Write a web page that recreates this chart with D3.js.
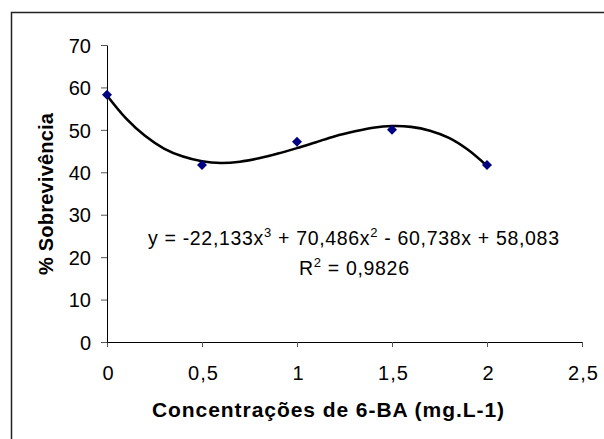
<!DOCTYPE html>
<html><head><meta charset="utf-8">
<script src="https://cdn.jsdelivr.net/npm/d3@7/dist/d3.min.js"></script>
<style>body{margin:0;background:#fff}svg{display:block}text{font-family:"Liberation Sans",Arial,sans-serif;fill:#000}</style>
</head><body>
<script>
// Observed data points
const concentrations = [0, 0.5, 1, 1.5, 2];
const survival = [58.3, 41.7, 47.2, 50.0, 41.7];
// Trendline values
const trendX = [0,0.1,0.2,0.3,0.4,0.5,0.6,0.7,0.8,0.9,1.0,1.1,1.2,1.3,1.4,1.5,1.6,1.7,1.8,1.9,2.0];
const trendY = [58.1,52.7,48.6,45.6,43.7,42.6,42.2,42.5,43.3,44.4,45.7,47.1,48.5,49.6,50.5,50.9,50.7,49.8,48.1,45.3,41.5];
const xTicks = [0,0.5,1,1.5,2,2.5];
const yTicks = [0,10,20,30,40,50,60,70];
const xTitle = "Concentrações de 6-BA (mg.L-1)";
const yTitle = "% Sobrevivência";
const r2Text = "0,9826";

const W=604,H=439;
const svg=d3.select("body").append("svg").attr("width",W).attr("height",H);
svg.append("rect").attr("x",11.5).attr("y",12.5).attr("width",800).attr("height",600)
  .attr("fill","none").attr("stroke","#222").attr("stroke-width",1.5);

const x=d3.scaleLinear().domain([0,2.5]).range([107,582]);
const y=d3.scaleLinear().domain([0,70]).range([342,45]);
const fmt=d=>String(d).replace(".",",");

const gx=svg.append("g").attr("transform","translate(0,342)")
  .call(d3.axisBottom(x).tickValues(xTicks).tickFormat(fmt).tickSize(5).tickSizeOuter(0));
const gy=svg.append("g").attr("transform","translate(107,0)")
  .call(d3.axisLeft(y).tickValues(yTicks).tickSize(6).tickSizeOuter(0).tickPadding(10));
[gx,gy].forEach(g=>{
  g.select(".domain").attr("stroke","#000");
  g.selectAll(".tick line").attr("stroke","#555");
  g.selectAll(".tick text").style("font-size","20px").attr("fill","#000");
});
gx.selectAll(".tick text").attr("dy","0.35em").attr("y",31).attr("dx",1).style("letter-spacing","1px");
gy.selectAll(".tick text").attr("dy","0.36em");

const line=d3.line().x((d,i)=>x(trendX[i])).y(d=>y(d)).curve(d3.curveCatmullRom);
svg.append("path").attr("d",line(trendY)).attr("fill","none").attr("stroke","#000").attr("stroke-width",2.6);

svg.selectAll(".pt").data(survival).join("path").attr("class","pt")
  .attr("transform",(d,i)=>`translate(${x(concentrations[i])},${y(d)})`)
  .attr("d",d3.symbol(d3.symbolDiamond2 || d3.symbolDiamond,64)())
  .attr("fill","#000080");

// Equation
const eq=svg.append("text").attr("x",148).attr("y",245).style("font-size","19.5px")
  .attr("textLength",411).attr("lengthAdjust","spacing");
eq.append("tspan").text("y = -22,133x");
eq.append("tspan").text("3").attr("dy",-8).style("font-size","13px");
eq.append("tspan").text(" + 70,486x").attr("dy",8);
eq.append("tspan").text("2").attr("dy",-8).style("font-size","13px");
eq.append("tspan").text(" - 60,738x + 58,083").attr("dy",8);
const r2=svg.append("text").attr("x",299).attr("y",275).style("font-size","19.5px")
  .attr("textLength",110).attr("lengthAdjust","spacing");
r2.append("tspan").text("R");
r2.append("tspan").text("2").attr("dy",-8).style("font-size","13px");
r2.append("tspan").text(" = "+r2Text).attr("dy",8);

svg.append("text").attr("x",152).attr("y",417)
  .attr("textLength",352).attr("lengthAdjust","spacing")
  .style("font-size","21px").style("font-weight","bold").text(xTitle);
svg.append("text").attr("transform","translate(53,275) rotate(-90)")
  .attr("textLength",162).attr("lengthAdjust","spacing")
  .style("font-size","20px").style("font-weight","bold").text(yTitle);
</script>
</body></html>
